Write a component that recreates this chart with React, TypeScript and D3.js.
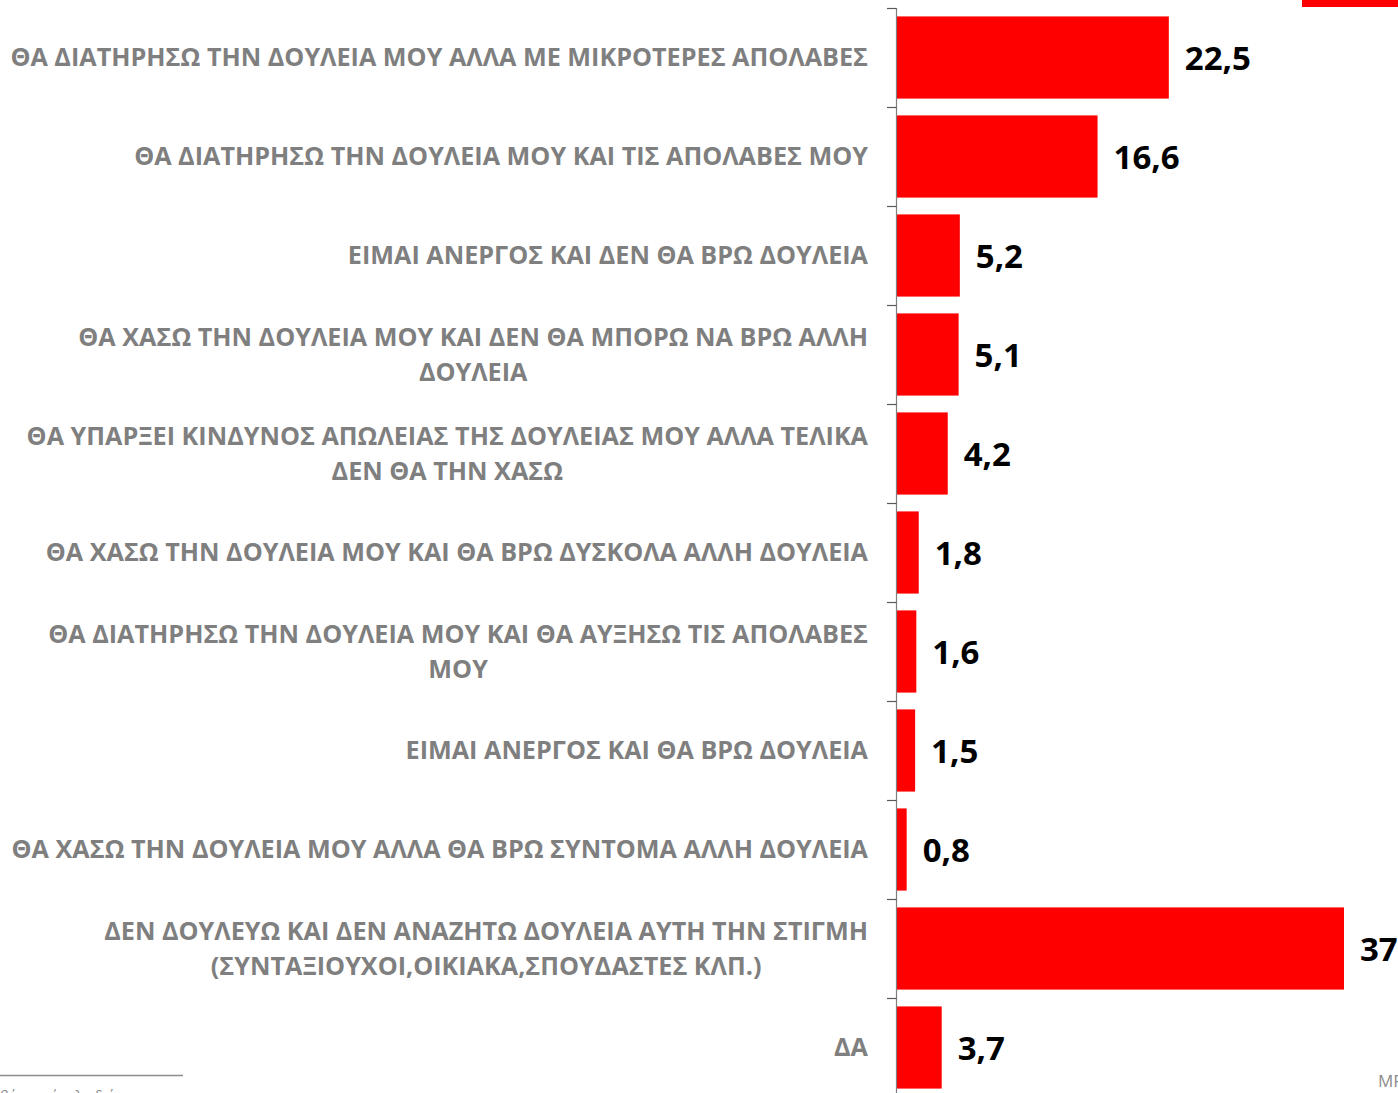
import React, { useEffect, useRef } from 'react';
import * as d3 from 'd3';

// κατηγορίες απαντήσεων (με τις αλλαγές γραμμής όπως στο πρωτότυπο)
const categories: string[][] = [
  ['ΘΑ ΔΙΑΤΗΡΗΣΩ ΤΗΝ ΔΟΥΛΕΙΑ ΜΟΥ ΑΛΛΑ ΜΕ ΜΙΚΡΟΤΕΡΕΣ ΑΠΟΛΑΒΕΣ'],
  ['ΘΑ ΔΙΑΤΗΡΗΣΩ ΤΗΝ ΔΟΥΛΕΙΑ ΜΟΥ ΚΑΙ ΤΙΣ ΑΠΟΛΑΒΕΣ ΜΟΥ'],
  ['ΕΙΜΑΙ ΑΝΕΡΓΟΣ ΚΑΙ ΔΕΝ ΘΑ ΒΡΩ ΔΟΥΛΕΙΑ'],
  ['ΘΑ ΧΑΣΩ ΤΗΝ ΔΟΥΛΕΙΑ ΜΟΥ ΚΑΙ ΔΕΝ ΘΑ ΜΠΟΡΩ ΝΑ ΒΡΩ ΑΛΛΗ', 'ΔΟΥΛΕΙΑ'],
  ['ΘΑ ΥΠΑΡΞΕΙ ΚΙΝΔΥΝΟΣ ΑΠΩΛΕΙΑΣ ΤΗΣ ΔΟΥΛΕΙΑΣ ΜΟΥ ΑΛΛΑ ΤΕΛΙΚΑ', 'ΔΕΝ ΘΑ ΤΗΝ ΧΑΣΩ'],
  ['ΘΑ ΧΑΣΩ ΤΗΝ ΔΟΥΛΕΙΑ ΜΟΥ ΚΑΙ ΘΑ ΒΡΩ ΔΥΣΚΟΛΑ ΑΛΛΗ ΔΟΥΛΕΙΑ'],
  ['ΘΑ ΔΙΑΤΗΡΗΣΩ ΤΗΝ ΔΟΥΛΕΙΑ ΜΟΥ ΚΑΙ ΘΑ ΑΥΞΗΣΩ ΤΙΣ ΑΠΟΛΑΒΕΣ', 'ΜΟΥ'],
  ['ΕΙΜΑΙ ΑΝΕΡΓΟΣ ΚΑΙ ΘΑ ΒΡΩ ΔΟΥΛΕΙΑ'],
  ['ΘΑ ΧΑΣΩ ΤΗΝ ΔΟΥΛΕΙΑ ΜΟΥ ΑΛΛΑ ΘΑ ΒΡΩ ΣΥΝΤΟΜΑ ΑΛΛΗ ΔΟΥΛΕΙΑ'],
  ['ΔΕΝ ΔΟΥΛΕΥΩ ΚΑΙ ΔΕΝ ΑΝΑΖΗΤΩ ΔΟΥΛΕΙΑ ΑΥΤΗ ΤΗΝ ΣΤΙΓΜΗ', '(ΣΥΝΤΑΞΙΟΥΧΟΙ,ΟΙΚΙΑΚΑ,ΣΠΟΥΔΑΣΤΕΣ ΚΛΠ.)'],
  ['ΔΑ'],
];
const values: number[] = [22.5, 16.6, 5.2, 5.1, 4.2, 1.8, 1.6, 1.5, 0.8, 37, 3.7];
const valueLabels: string[] = ['22,5', '16,6', '5,2', '5,1', '4,2', '1,8', '1,6', '1,5', '0,8', '37', '3,7'];

const W = 1398, H = 1093;

export default function App() {
  const ref = useRef<SVGSVGElement>(null);

  useEffect(() => {
    const svg = d3.select(ref.current);
    svg.selectAll('*').remove();

    const axisX = 896;
    const labelRight = 868;
    const keys = categories.map((c, i) => String(i));
    const y = d3.scaleBand().domain(keys).range([8, 1097]).paddingInner(0.17).paddingOuter(0.085);
    const x = d3.scaleLinear().domain([0, 37]).range([0, 447]);
    const step = y.step();
    const gap = step - y.bandwidth();

    // κόκκινο κομμάτι πάνω δεξιά
    svg.append('rect').attr('x', 1302).attr('y', 0).attr('width', 96).attr('height', 7).attr('fill', '#ff0000');

    const g = svg.append('g');

    g.selectAll('rect.bar')
      .data(values)
      .enter()
      .append('rect')
      .attr('class', 'bar')
      .attr('x', axisX + 1)
      .attr('y', (d, i) => y(keys[i]) as number)
      .attr('width', d => x(d))
      .attr('height', y.bandwidth())
      .attr('fill', '#ff0000');

    // άξονας
    g.append('line')
      .attr('x1', axisX + 0.5).attr('x2', axisX + 0.5)
      .attr('y1', 8).attr('y2', H)
      .attr('stroke', '#7f7f7f').attr('stroke-width', 1.2);

    const ticks = keys.map(k => (y(k) as number) - gap / 2);
    g.selectAll('line.tick')
      .data(ticks)
      .enter()
      .append('line')
      .attr('class', 'tick')
      .attr('x1', axisX - 9).attr('x2', axisX + 0.5)
      .attr('y1', d => Math.round(d) + 0.5).attr('y2', d => Math.round(d) + 0.5)
      .attr('stroke', '#595959').attr('stroke-width', 1.2);

    // ετικέτες κατηγοριών: μπλοκ δεξιά, γραμμές κεντραρισμένες μεταξύ τους
    const labels = g.selectAll('text.cat')
      .data(categories)
      .enter()
      .append('text')
      .attr('class', 'cat')
      .attr('text-anchor', 'middle')
      .attr('font-family', '"Open Sans", sans-serif')
      .attr('font-weight', 700)
      .attr('font-size', 25.2)
      .attr('fill', '#7f7f7f');

    labels.each(function (lines, i) {
      const cy = (y(keys[i]) as number) + y.bandwidth() / 2;
      const lh = 35;
      const t = d3.select(this);
      const spans = lines.map((ln, j) =>
        t.append('tspan')
          .attr('y', cy + (j - (lines.length - 1) / 2) * lh + 8.5)
          .text(ln)
      );
      const maxW = d3.max(spans, s => (s.node() as SVGTSpanElement).getComputedTextLength()) || 0;
      spans.forEach(s => s.attr('x', labelRight - maxW / 2));
    });

    // τιμές
    g.selectAll('text.val')
      .data(values)
      .enter()
      .append('text')
      .attr('class', 'val')
      .attr('x', d => axisX + x(d) + 17)
      .attr('y', (d, i) => (y(keys[i]) as number) + y.bandwidth() / 2 + 12)
      .attr('font-family', '"Open Sans", sans-serif')
      .attr('font-weight', 700)
      .attr('font-size', 33)
      .attr('fill', '#000')
      .text((d, i) => valueLabels[i]);

    // υποσημείωση κάτω αριστερά
    svg.append('line')
      .attr('x1', 0).attr('x2', 183).attr('y1', 1075.5).attr('y2', 1075.5)
      .attr('stroke', '#8c8c8c').attr('stroke-width', 1.5);
    svg.append('text')
      .attr('x', 0).attr('y', 1101)
      .attr('font-family', '"Open Sans", sans-serif')
      .attr('font-size', 14)
      .attr('fill', '#8c8c8c')
      .text('βάση: σύνολο δείγματος');

    svg.append('text')
      .attr('x', 1378).attr('y', 1087)
      .attr('font-family', '"Open Sans", sans-serif')
      .attr('font-size', 17)
      .attr('fill', '#8c8c8c')
      .text('MRB');
  }, []);

  return (
    <div style={{ position: 'absolute', left: 0, top: 0, width: W, height: H, overflow: 'hidden' }}>
      <svg ref={ref} width={W} height={H} style={{ display: 'block', background: '#fff' }} />
    </div>
  );
}
